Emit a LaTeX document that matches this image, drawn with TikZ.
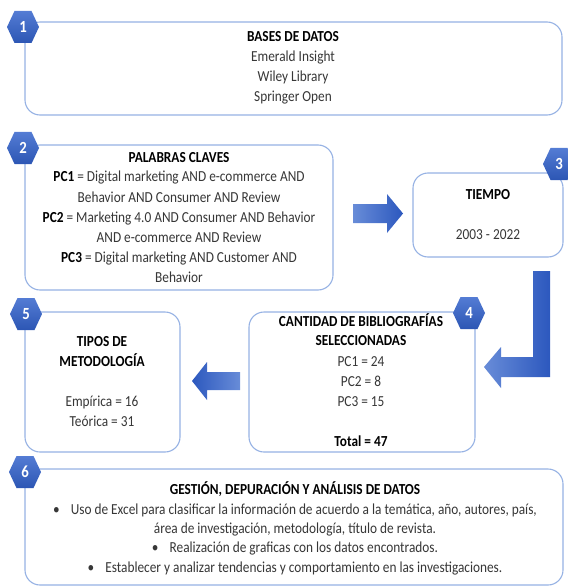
\documentclass[tikz,border=0pt]{standalone}
\usepackage{fontspec}
\setmainfont{Carlito}[FakeStretch=0.87]
\definecolor{boxline}{RGB}{150,178,228}
\definecolor{hexlight}{RGB}{84,124,212}
\definecolor{hexdark}{RGB}{44,86,180}
\definecolor{arrlight}{RGB}{104,140,216}
\definecolor{arrdark}{RGB}{44,88,190}
\definecolor{txtgray}{RGB}{55,55,55}
\begin{document}
\begin{tikzpicture}[x=1pt,y=-1pt,
 box/.style={draw=boxline, line width=1.1pt, rounded corners=15pt, fill=white, inner sep=0pt},
 txt/.style={anchor=base, inner sep=0pt, font=\fontsize{15.3}{16}\selectfont, text=txtgray},
 ttl/.style={anchor=base, inner sep=0pt, font=\fontsize{15.3}{16}\selectfont\bfseries, text=black},
 num/.style={inner sep=0pt, font=\fontsize{17}{16}\selectfont\bfseries, text=white},
 hexa/.style={top color=hexlight, bottom color=hexdark, draw=none},
 arrowLR/.style={left color=arrlight, right color=arrdark, draw=none},
 arrowRL/.style={left color=arrdark, right color=arrlight, draw=none}]
\useasboundingbox (0,0) rectangle (567,588);

% boxes
\node[box, minimum width=537pt, minimum height=93pt] (b1) at (293.5,68.5) {};
\node[box, minimum width=308pt, minimum height=145pt] (b2) at (179,217.5) {};
\node[box, minimum width=150pt, minimum height=84pt] (b3) at (488,215) {};
\node[box, minimum width=226pt, minimum height=140pt] (b4) at (362,382) {};
\node[box, minimum width=155pt, minimum height=140pt] (b5) at (102.5,382) {};
\node[box, minimum width=538pt, minimum height=116pt] (b6) at (294,527) {};

% box 1 text
\node[ttl] (t1a) at (293,42) {BASES DE DATOS};
\node[txt] (t1b) at (293,62) {Emerald Insight};
\node[txt] (t1c) at (293,82) {Wiley Library};
\node[txt] (t1d) at (293,102) {Springer Open};

% box 2 text
\node[ttl] (t2a) at (179,162) {PALABRAS CLAVES};
\node[txt] (t2b) at (179,182) {\textbf{\color{black}PC1} = Digital marketing AND e-commerce AND};
\node[txt] (t2c) at (179,202) {Behavior AND Consumer AND Review};
\node[txt] (t2d) at (179,222) {\textbf{\color{black}PC2} = Marketing 4.0 AND Consumer AND Behavior};
\node[txt] (t2e) at (179,242) {AND e-commerce AND Review};
\node[txt] (t2f) at (179,262) {\textbf{\color{black}PC3} = Digital marketing AND Customer AND};
\node[txt] (t2g) at (179,282) {Behavior};

% box 3 text
\node[ttl] (t3a) at (488,199) {TIEMPO};
\node[txt] (t3b) at (488,239) {2003 - 2022};

% box 4 text
\node[ttl] (t4a) at (361,326) {CANTIDAD DE BIBLIOGRAFÍAS};
\node[ttl] (t4b) at (361,345) {SELECCIONADAS};
\node[txt] (t4c) at (361,366) {PC1 = 24};
\node[txt] (t4d) at (361,386) {PC2 = 8};
\node[txt] (t4e) at (361,406) {PC3 = 15};
\node[ttl] (t4f) at (361,446) {Total = 47};

% box 5 text
\node[ttl] (t5a) at (102,346) {TIPOS DE};
\node[ttl] (t5b) at (102,366) {METODOLOGÍA};
\node[txt] (t5c) at (102,406) {Empírica = 16};
\node[txt] (t5d) at (102,426) {Teórica = 31};

% box 6 text
\node[ttl] (t6a) at (295,494) {GESTIÓN, DEPURACIÓN Y ANÁLISIS DE DATOS};
\node[txt] (t6b) at (295,514) {\textbullet\hspace{11pt}Uso de Excel para clasificar la información de acuerdo a la temática, año, autores, país,};
\node[txt] (t6c) at (295,533) {área de investigación, metodología, título de revista.};
\node[txt] (t6d) at (295,552) {\textbullet\hspace{11pt}Realización de graficas con los datos encontrados.};
\node[txt] (t6e) at (295,572) {\textbullet\hspace{11pt}Establecer y analizar tendencias y comportamiento en las investigaciones.};

% block arrows
\coordinate (a23) at (353,213.5);
\path[arrowLR] (a23) +(0,-9.5) -- +(34,-9.5) -- +(34,-19.5) -- +(50,0) -- +(34,19.5) -- +(34,9.5) -- +(0,9.5) -- cycle;
\coordinate (a34) at (550,271);
\path[arrowLR] (a34) -- +(0,106) -- +(-49,106) -- +(-49,117) -- +(-66,96) -- +(-49,76) -- +(-49,86) -- +(-17,86) -- +(-17,0) -- cycle;
\coordinate (a45) at (240,381);
\path[arrowRL] (a45) +(0,-9) -- +(-33,-9) -- +(-33,-19) -- +(-48,0) -- +(-33,19) -- +(-33,9) -- +(0,9) -- cycle;

% hexagons
\foreach \nm/\px/\py/\lab in {h1/23/27/1, h2/23/148/2, h3/559/164/3, h4/469/313/4, h5/26/314/5, h6/25/472/6}{
  \coordinate (\nm) at (\px,\py);
  \path[hexa] (\nm) +(-16,0) -- +(-8.5,-16) -- +(8.5,-16) -- +(16,0) -- +(8.5,16) -- +(-8.5,16) -- cycle;
  \node[num] (n\nm) at (\nm) {\lab};
}
\end{tikzpicture}
\end{document}
